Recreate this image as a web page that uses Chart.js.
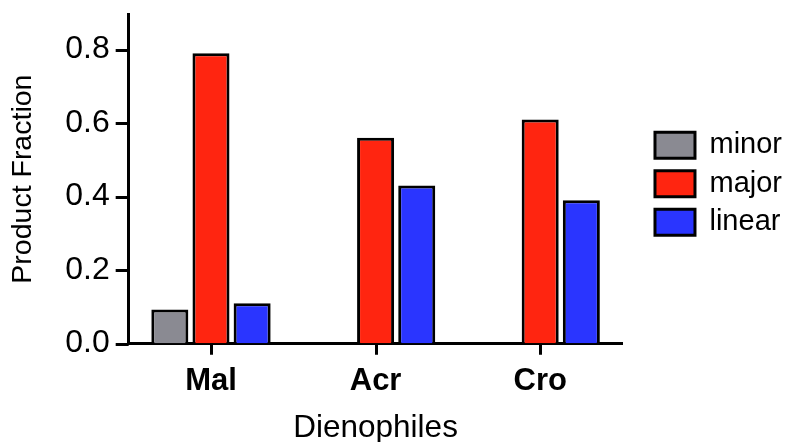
<!DOCTYPE html>
<html>
<head>
<meta charset="utf-8">
<script src="https://cdn.jsdelivr.net/npm/chart.js@4.4.0/dist/chart.umd.min.js"></script>
<style>
html,body{margin:0;padding:0;background:#fff}
#wrap{width:792px;height:442px}
</style>
</head>
<body>
<div id="wrap"><canvas id="c" width="792" height="442"></canvas></div>
<script>
const categories=["Mal","Acr","Cro"]
const minorValues=[0.093,null,null]
const majorValues=[0.79,0.56,0.61]
const linearValues=[0.11,0.43,0.39]
const yTicks=[0,0.2,0.4,0.6,0.8]

const font="'Liberation Sans', Arial, Helvetica, sans-serif"
const legendShift=23
const markLen=11

function ds(label,data,color){
return {label:label,data:data,backgroundColor:color,borderColor:"#000",borderWidth:3,borderSkipped:"bottom",
categoryPercentage:0.75,barPercentage:0.9}
}

// push the legend back to the right edge after the padding made room next to the plot
const moveLegend={
id:"moveLegend",
afterLayout(chart){
const lg=chart.legend
if(!lg) return
lg.left+=legendShift
lg.right+=legendShift
if(lg.legendHitBoxes) lg.legendHitBoxes.forEach(b=>{b.left+=legendShift})
}
}

// outward tick marks, placed from the scales
const tickMarks={
id:"tickMarks",
afterDraw(chart){
const ctx=chart.ctx
const xs=chart.scales.x
const ys=chart.scales.y
ctx.save()
ctx.strokeStyle="#000"
ctx.lineWidth=3
ctx.lineCap="butt"
ctx.beginPath()
xs.ticks.forEach((t,i)=>{
const x=Math.round(xs.getPixelForTick(i))+0.5
ctx.moveTo(x,xs.top)
ctx.lineTo(x,xs.top+markLen)
})
ys.ticks.forEach((t,i)=>{
const y=Math.round(ys.getPixelForTick(i))+0.5
ctx.moveTo(ys.right-markLen-2,y)
ctx.lineTo(ys.right,y)
})
ctx.stroke()
ctx.restore()
}
}

new Chart(document.getElementById("c"),{
type:"bar",
data:{
labels:categories,
datasets:[
ds("minor",minorValues,"#8a8a92"),
ds("major",majorValues,"#ff2510"),
ds("linear",linearValues,"#2a35ff")
]
},
plugins:[moveLegend,tickMarks],
options:{
responsive:false,
animation:false,
layout:{padding:{top:0,right:legendShift,left:6,bottom:0}},
plugins:{
tooltip:{enabled:false},
legend:{
position:"right",
align:"start",
title:{display:true,text:"",padding:{top:120,bottom:0},font:{size:1}},
labels:{color:"#000",boxWidth:40,boxHeight:26,padding:9.5,font:{family:font,size:29}}
}
},
scales:{
x:{
grid:{drawOnChartArea:false,color:"rgba(0,0,0,0)",tickLength:10},
border:{color:"#000",width:3},
ticks:{color:"#000",padding:12,font:{family:font,size:31,weight:"bold",lineHeight:1}},
title:{display:true,text:"Dienophiles",color:"#000",padding:{top:5,bottom:0},font:{family:font,size:31.5,lineHeight:0.9}}
},
y:{
min:0,max:0.895,
afterBuildTicks:function(scale){scale.ticks=yTicks.map(v=>({value:v}))},
grid:{drawOnChartArea:false,color:"rgba(0,0,0,0)",tickLength:10},
border:{color:"#000",width:3},
ticks:{color:"#000",padding:9,font:{family:font,size:32,lineHeight:0.35},callback:v=>Number(v).toFixed(1)},
title:{display:true,text:"Product Fraction",color:"#000",padding:{top:0,bottom:16},font:{family:font,size:28.5}}
}
}
}
})
</script>
</body>
</html>
